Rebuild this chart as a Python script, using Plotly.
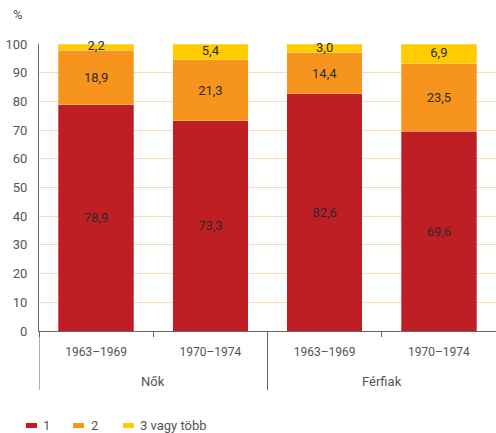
import plotly.graph_objects as go

# Groups and periods
groups = ['Nők', 'Férfiak']
periods = ['1963–1969', '1970–1974', '1963–1969', '1970–1974']
cats = ['Nők 1963–1969', 'Nők 1970–1974', 'Férfiak 1963–1969', 'Férfiak 1970–1974']

# Shares (%)
one = [78.9, 73.3, 82.6, 69.6]
two = [18.9, 21.3, 14.4, 23.5]
three_plus = [2.2, 5.4, 3.0, 6.9]

series = [('1', one, '#BE1E24'),
          ('2', two, '#F7941D'),
          ('3 vagy több', three_plus, '#FFCC00')]

FONT = 'Roboto'
GREY = '#555555'
AXIS = '#6e6259'
LABEL = '#2b2b2b'

# plot area in pixels: x 39..496, y 44..331
def px(x):
    return (x - 39) / 457

def py(y):
    return (331 - y) / 287

def fmt(v):
    return f'{v:.1f}'.replace('.', ',')

fig = go.Figure()
for name, vals, color in series:
    top = name == '3 vagy több'
    fig.add_trace(go.Bar(
        x=cats, y=vals, name=name,
        marker=dict(color=color, line=dict(color='rgba(255,240,240,0.6)', width=0.5)),
        text=None if top else [fmt(v) for v in vals],
        textposition='inside', insidetextanchor='middle',
        constraintext='none',
        textfont=dict(color=LABEL, size=13),
        width=0.66, showlegend=False, hoverinfo='y+name',
    ))

# labels of the thin top segments, centred on each segment
mid_top = [a + b + c / 2 for a, b, c in zip(one, two, three_plus)]
fig.add_trace(go.Scatter(
    x=cats, y=mid_top, mode='text', text=[fmt(v) for v in three_plus],
    textposition='middle center', textfont=dict(color=LABEL, size=13),
    showlegend=False, hoverinfo='skip', cliponaxis=False,
))

shapes = []
annotations = [dict(text='%', x=px(11), y=py(15), xref='paper', yref='paper',
                    showarrow=False, xanchor='left', yanchor='middle',
                    font=dict(size=13, color=GREY))]

# group dividers below the axis
for xb in [-0.5, 1.5]:
    shapes.append(dict(type='line', xref='x', yref='paper', x0=xb, x1=xb,
                       y0=0, y1=py(390), line=dict(color=AXIS, width=1)))
# group labels
for i, g in enumerate(groups):
    annotations.append(dict(text=g, x=2 * i + 0.5, y=py(381), xref='x', yref='paper',
                            showarrow=False, xanchor='center', yanchor='middle',
                            font=dict(size=13, color=GREY)))

# legend drawn by hand
leg_x = [(26, 41), (73, 89), (123, 138)]
for (name, vals, color), (sx, tx) in zip(series, leg_x):
    shapes.append(dict(type='rect', xref='paper', yref='paper', x0=px(sx), x1=px(sx + 11),
                       y0=py(428), y1=py(423), fillcolor=color, line=dict(width=0)))
    annotations.append(dict(text=name, x=px(tx), y=py(425.5), xref='paper', yref='paper',
                            showarrow=False, xanchor='left', yanchor='middle',
                            font=dict(size=13, color=GREY)))

fig.update_layout(
    barmode='stack',
    width=496, height=433,
    margin=dict(l=39, r=0, t=44, b=102, autoexpand=False),
    plot_bgcolor='white', paper_bgcolor='white',
    font=dict(family=FONT, size=13, color=GREY),
    showlegend=False,
    shapes=shapes,
    annotations=annotations,
)
fig.update_yaxes(range=[0, 100], dtick=10, showgrid=True, gridcolor='#FCD9B5',
                 gridwidth=1, zeroline=False, showline=True, linecolor=AXIS,
                 linewidth=1, ticks='', ticklabelstandoff=8, automargin=False)
fig.update_xaxes(type='category', tickmode='array', tickvals=cats, ticktext=periods,
                 tickson='boundaries', range=[-0.5, 3.5],
                 showline=True, linecolor=AXIS, linewidth=1, ticks='outside',
                 ticklen=5, tickcolor=AXIS, showgrid=False, automargin=False,
                 ticklabelstandoff=10, tickfont=dict(size=12))

fig.write_html('out.html', config={'displayModeBar': False},
               post_script="document.body.style.margin='0px';")
